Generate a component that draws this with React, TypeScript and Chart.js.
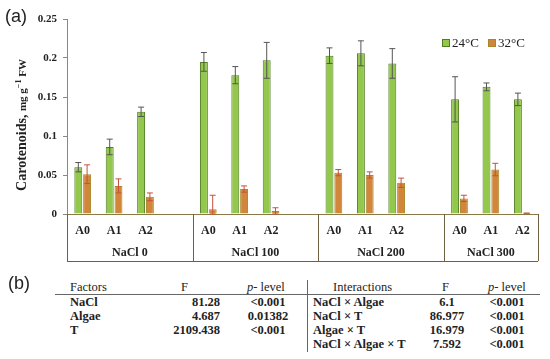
import React, { useEffect, useRef } from "react";
import { Chart, registerables } from "chart.js";

Chart.register(...registerables);

const categories = ["A0", "A1", "A2", "", "A0", "A1", "A2", "", "A0", "A1", "A2", "", "A0", "A1", "A2"];
const groups = ["NaCl 0", "NaCl 100", "NaCl 200", "NaCl 300"];
const groupStarts = [0, 4, 8, 12];
const groupEnds = [3, 7, 11, 14];
const temp24 = [0.06, 0.086, 0.131, null, 0.195, 0.178, 0.197, null, 0.203, 0.206, 0.193, null, 0.147, 0.163, 0.147];
const err24 = [0.006, 0.01, 0.006, null, 0.012, 0.011, 0.023, null, 0.01, 0.016, 0.019, null, 0.029, 0.005, 0.008];
const temp32 = [0.051, 0.036, 0.022, null, 0.006, 0.032, 0.004, null, 0.053, 0.05, 0.04, null, 0.02, 0.057, 0.001];
const err32 = [0.012, 0.009, 0.005, null, 0.018, 0.004, 0.004, null, 0.004, 0.004, 0.006, null, 0.004, 0.008, 0];
const yTicks = [0, 0.05, 0.1, 0.15, 0.2, 0.25];
const seriesNames = ["24°C", "32°C"];

const factorRows = [
  ["NaCl", "81.28", "<0.001"],
  ["Algae", "4.687", "0.01382"],
  ["T", "2109.438", "<0.001"],
];
const interactionRows = [
  ["NaCl × Algae", "6.1", "<0.001"],
  ["NaCl × T", "86.977", "<0.001"],
  ["Algae × T", "16.979", "<0.001"],
  ["NaCl × Algae × T", "7.592", "<0.001"],
];

const SERIF = "'Liberation Serif', 'DejaVu Serif', serif";
const GREEN = "#93c84c";
const GREEN_B = "#4f7d22";
const ORANGE = "#d2863a";
const ORANGE_B = "#a8862c";

const extrasPlugin = {
  id: "extras",
  afterDatasetsDraw(chart: any) {
    const ctx = chart.ctx;
    const y = chart.scales.y;
    const errs = [err24, err32];
    const cols = ["#555555", "#c9503c"];
    chart.data.datasets.forEach((ds: any, di: number) => {
      const meta = chart.getDatasetMeta(di);
      meta.data.forEach((bar: any, i: number) => {
        const v = ds.data[i];
        const e = errs[di][i];
        if (v == null || e == null) return;
        const yt = y.getPixelForValue(v + e);
        const yb = y.getPixelForValue(Math.max(0, v - e));
        ctx.save();
        ctx.strokeStyle = cols[di];
        ctx.lineWidth = 1;
        ctx.beginPath();
        ctx.moveTo(bar.x, yt);
        ctx.lineTo(bar.x, yb);
        ctx.moveTo(bar.x - 3, yt);
        ctx.lineTo(bar.x + 3, yt);
        ctx.moveTo(bar.x - 3, yb);
        ctx.lineTo(bar.x + 3, yb);
        ctx.stroke();
        ctx.restore();
      });
    });
  },
  afterDraw(chart: any) {
    const ctx = chart.ctx;
    const x = chart.scales.x;
    const area = chart.chartArea;
    const half = (x.getPixelForValue(1) - x.getPixelForValue(0)) / 2;
    const bottom = area.bottom + 47;
    ctx.save();
    ctx.strokeStyle = "#6e6040";
    ctx.lineWidth = 1;
    ctx.beginPath();
    const bounds: number[] = [];
    groups.forEach((g, gi) => {
      const left = x.getPixelForValue(groupStarts[gi]) - half;
      bounds.push(left);
    });
    bounds.push(x.getPixelForValue(groupEnds[groupEnds.length - 1]) + half);
    bounds.forEach((bx) => {
      ctx.moveTo(Math.round(bx) + 0.5, area.bottom);
      ctx.lineTo(Math.round(bx) + 0.5, bottom);
    });
    ctx.moveTo(bounds[0], bottom + 0.5);
    ctx.lineTo(bounds[bounds.length - 1], bottom + 0.5);
    ctx.stroke();
    ctx.fillStyle = "#222";
    ctx.font = `bold 12px ${SERIF}`;
    ctx.textAlign = "center";
    ctx.textBaseline = "middle";
    groups.forEach((g, gi) => {
      ctx.fillText(g, (bounds[gi] + bounds[gi + 1]) / 2, area.bottom + 39);
    });

    // legend
    ctx.font = `13px ${SERIF}`;
    ctx.textAlign = "left";
    const lx = [442, 488];
    const fills = [GREEN, ORANGE];
    const borders = [GREEN_B, ORANGE_B];
    seriesNames.forEach((n, i) => {
      ctx.fillStyle = fills[i];
      ctx.fillRect(lx[i], 39, 8, 8);
      ctx.strokeStyle = borders[i];
      ctx.strokeRect(lx[i] + 0.5, 39.5, 7, 7);
      ctx.fillStyle = "#222";
      ctx.fillText(n, lx[i] + 10, 43.5);
    });

    // y title
    ctx.save();
    ctx.translate(22, 125);
    ctx.rotate(-Math.PI / 2);
    ctx.textBaseline = "middle";
    ctx.textAlign = "left";
    const p1 = "Carotenoids, ";
    ctx.font = `bold 14px ${SERIF}`;
    const w1 = ctx.measureText(p1).width;
    ctx.font = `bold 11px ${SERIF}`;
    const w2 = ctx.measureText("mg g").width;
    ctx.font = `bold 8px ${SERIF}`;
    const w3 = ctx.measureText("−1").width;
    ctx.font = `bold 11px ${SERIF}`;
    const w4 = ctx.measureText(" FW").width;
    let cx = -(w1 + w2 + w3 + w4) / 2;
    ctx.fillStyle = "#222";
    ctx.font = `bold 14px ${SERIF}`;
    ctx.fillText(p1, cx, 0);
    cx += w1;
    ctx.font = `bold 11px ${SERIF}`;
    ctx.fillText("mg g", cx, 1);
    cx += w2;
    ctx.font = `bold 8px ${SERIF}`;
    ctx.fillText("−1", cx, -3);
    cx += w3;
    ctx.font = `bold 11px ${SERIF}`;
    ctx.fillText(" FW", cx, 1);
    ctx.restore();
    ctx.restore();
  },
};

function ChartView() {
  const ref = useRef<HTMLCanvasElement | null>(null);
  useEffect(() => {
    if (!ref.current) return;
    const chart = new Chart(ref.current, {
      type: "bar",
      data: {
        labels: categories,
        datasets: [
          {
            label: seriesNames[0],
            data: temp24 as any,
            backgroundColor: GREEN,
            borderColor: GREEN_B,
            borderWidth: 1,
            categoryPercentage: 0.56,
            barPercentage: 0.9,
          },
          {
            label: seriesNames[1],
            data: temp32 as any,
            backgroundColor: ORANGE,
            borderColor: ORANGE_B,
            borderWidth: 1,
            categoryPercentage: 0.56,
            barPercentage: 0.9,
          },
        ],
      },
      options: {
        responsive: false,
        animation: false,
        layout: { padding: { top: 19, right: 12, left: 0, bottom: 0 } },
        plugins: { legend: { display: false }, tooltip: { enabled: false } },
        scales: {
          x: {
            grid: { display: false, drawTicks: false },
            border: { color: "#8a7a4a" },
            ticks: {
              color: "#222",
              font: { family: SERIF, size: 12, weight: "bold" },
              padding: 10,
              maxRotation: 0,
              autoSkip: false,
            },
            afterFit: (s: any) => {
              s.height = 51;
            },
          },
          y: {
            min: 0,
            max: 0.25,
            afterBuildTicks: (s: any) => {
              s.ticks = yTicks.map((v) => ({ value: v }));
            },
            ticks: {
              color: "#222",
              font: { family: SERIF, size: 11, weight: "bold" },
              padding: 6,
              callback: (v: any) => String(+Number(v).toFixed(2)),
            },
            grid: { drawOnChartArea: false, drawTicks: true, tickLength: 4, color: "#888" },
            border: { color: "#888" },
            afterFit: (s: any) => {
              s.width = 67;
            },
          },
        },
      },
      plugins: [extrasPlugin],
    });
    return () => chart.destroy();
  }, []);
  return <canvas ref={ref} width={550} height={265} style={{ position: "absolute", left: 0, top: 0 }} />;
}

const txt: React.CSSProperties = {
  position: "absolute",
  fontFamily: SERIF,
  fontSize: 12.5,
  color: "#222",
  whiteSpace: "nowrap",
  lineHeight: "14px",
};

export default function App() {
  const rowY = [295, 309, 323, 337];
  return (
    <div style={{ position: "fixed", left: 0, top: 0, width: 550, height: 359, background: "#fff", overflow: "hidden" }}>
      <ChartView />
      <div style={{ ...txt, left: 5, top: 5, fontFamily: "'Liberation Sans', Arial, sans-serif", fontSize: 18, lineHeight: "22px" }}>(a)</div>
      <div style={{ ...txt, left: 8, top: 272, fontFamily: "'Liberation Sans', Arial, sans-serif", fontSize: 18, lineHeight: "22px" }}>(b)</div>
      <div style={{ position: "absolute", left: 55, top: 294, width: 485, height: 1, background: "#666" }} />
      <div style={{ position: "absolute", left: 307, top: 280, width: 1, height: 72, background: "#666" }} />
      <div style={{ ...txt, left: 70, top: 280 }}>Factors</div>
      <div style={{ ...txt, left: 181, top: 280 }}>F</div>
      <div style={{ ...txt, left: 247, top: 280 }}>
        <i>p</i>- level
      </div>
      <div style={{ ...txt, left: 333, top: 280 }}>Interactions</div>
      <div style={{ ...txt, left: 442, top: 280 }}>F</div>
      <div style={{ ...txt, left: 488, top: 280 }}>
        <i>p</i>- level
      </div>
      {factorRows.map((r, i) => (
        <React.Fragment key={"f" + i}>
          <div style={{ ...txt, left: 70, top: rowY[i], fontWeight: "bold" }}>{r[0]}</div>
          <div style={{ ...txt, right: 550 - 220, top: rowY[i], fontWeight: "bold" }}>{r[1]}</div>
          <div style={{ ...txt, left: 268, top: rowY[i], fontWeight: "bold", transform: "translateX(-50%)" }}>{r[2]}</div>
        </React.Fragment>
      ))}
      {interactionRows.map((r, i) => (
        <React.Fragment key={"i" + i}>
          <div style={{ ...txt, left: 313, top: rowY[i], fontWeight: "bold" }}>{r[0]}</div>
          <div style={{ ...txt, left: 447, top: rowY[i], fontWeight: "bold", transform: "translateX(-50%)" }}>{r[1]}</div>
          <div style={{ ...txt, left: 507, top: rowY[i], fontWeight: "bold", transform: "translateX(-50%)" }}>{r[2]}</div>
        </React.Fragment>
      ))}
    </div>
  );
}
